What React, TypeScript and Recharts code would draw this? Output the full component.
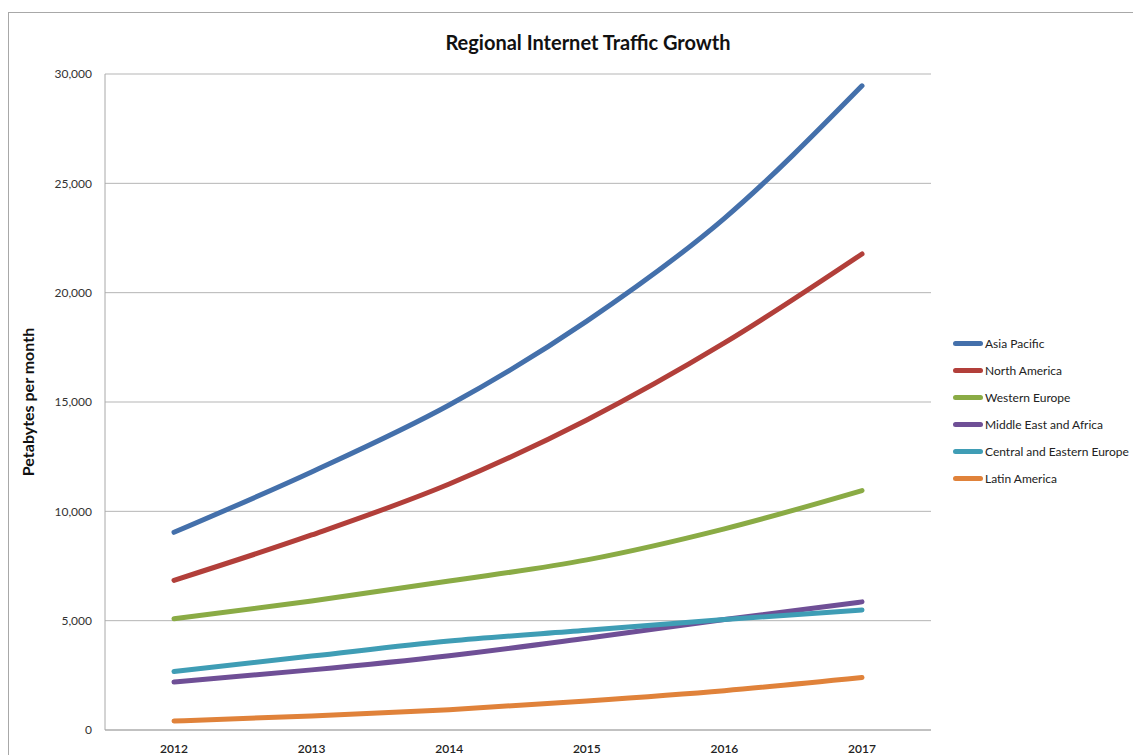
import { CartesianGrid, Line, LineChart, XAxis, YAxis } from "recharts";

// Values (petabytes per month).
const years = ["2012", "2013", "2014", "2015", "2016", "2017"];
const asiaPacific = [9040, 11800, 14860, 18700, 23400, 29460];
const northAmerica = [6845, 8920, 11250, 14180, 17700, 21770];
const westernEurope = [5090, 5900, 6810, 7780, 9200, 10950];
const middleEastAfrica = [2195, 2750, 3400, 4200, 5050, 5860];
const centralEasternEurope = [2680, 3380, 4070, 4560, 5050, 5490];
const latinAmerica = [410, 640, 930, 1330, 1800, 2400];
const yTicks = [0, 5000, 10000, 15000, 20000, 25000, 30000];

const series = [
  { name: "Asia Pacific", values: asiaPacific, color: "#4470ab" },
  { name: "North America", values: northAmerica, color: "#b23f3a" },
  { name: "Western Europe", values: westernEurope, color: "#8aab45" },
  { name: "Middle East and Africa", values: middleEastAfrica, color: "#6f4f96" },
  { name: "Central and Eastern Europe", values: centralEasternEurope, color: "#3f9db5" },
  { name: "Latin America", values: latinAmerica, color: "#e0823a" },
];

const data = years.map((year, i) => {
  const row: Record<string, string | number> = { year };
  series.forEach((s) => {
    row[s.name] = s.values[i];
  });
  return row;
});

if (typeof document !== "undefined") {
  document.body.style.overflow = "hidden";
}

const font = "Lato, 'Open Sans', sans-serif";

function LegendBox() {
  return (
    <div style={{ position: "absolute", left: 945, top: 322, fontFamily: font, fontSize: 12, color: "#222" }}>
      {series.map((s) => (
        <div key={s.name} style={{ display: "flex", alignItems: "center", height: 27 }}>
          <span
            style={{
              display: "inline-block",
              width: 30,
              height: 5,
              borderRadius: 3,
              background: s.color,
              marginRight: 2,
            }}
          />
          <span>{s.name}</span>
        </div>
      ))}
    </div>
  );
}

export default function App() {
  return (
    <div style={{ position: "relative", width: 1133, height: 747, fontFamily: font }}>
      <div
        style={{
          position: "absolute",
          left: 0,
          top: 4,
          right: 0,
          bottom: 0,
          borderLeft: "1.5px solid #a8a8a8",
          borderTop: "1.5px solid #a8a8a8",
        }}
      />
      <div
        style={{
          position: "absolute",
          left: 0,
          width: 1160,
          top: 22,
          textAlign: "center",
          fontWeight: 700,
          fontSize: 20,
          color: "#111",
        }}
      >
        Regional Internet Traffic Growth
      </div>
      <LineChart
        width={1133}
        height={747}
        data={data}
        margin={{ top: 66, right: 210, left: 0, bottom: 0 }}
        style={{ position: "absolute", left: 0, top: 0 }}
      >
        <CartesianGrid vertical={false} stroke="#b5b5b5" strokeWidth={1} />
        <XAxis
          dataKey="year"
          height={25}
          padding={{ left: 69, right: 69 }}
          stroke="#a8a8a8"
          tickLine={false}
          tickSize={0}
          tickMargin={14}
          tick={{ fontSize: 12, fill: "#222", fontWeight: 600, fontFamily: font }}
        />
        <YAxis
          width={97}
          domain={[0, 30000]}
          ticks={yTicks}
          interval={0}
          stroke="#a8a8a8"
          tickLine={false}
          tickSize={0}
          tickMargin={13}
          tickFormatter={(v: number) => v.toLocaleString("en-US")}
          tick={{ fontSize: 12, fill: "#333", fontFamily: font }}
          label={{
            value: "Petabytes per month",
            angle: -90,
            position: "insideLeft",
            offset: 0,
            dx: 20,
            style: { fontSize: 16, fontWeight: 700, fill: "#111", fontFamily: font, textAnchor: "middle" },
          }}
        />
        {series.map((s) => (
          <Line
            key={s.name}
            type="monotone"
            dataKey={s.name}
            stroke={s.color}
            strokeWidth={5}
            strokeLinecap="round"
            dot={false}
            activeDot={false}
            isAnimationActive={false}
          />
        ))}
      </LineChart>
      <LegendBox />
    </div>
  );
}
